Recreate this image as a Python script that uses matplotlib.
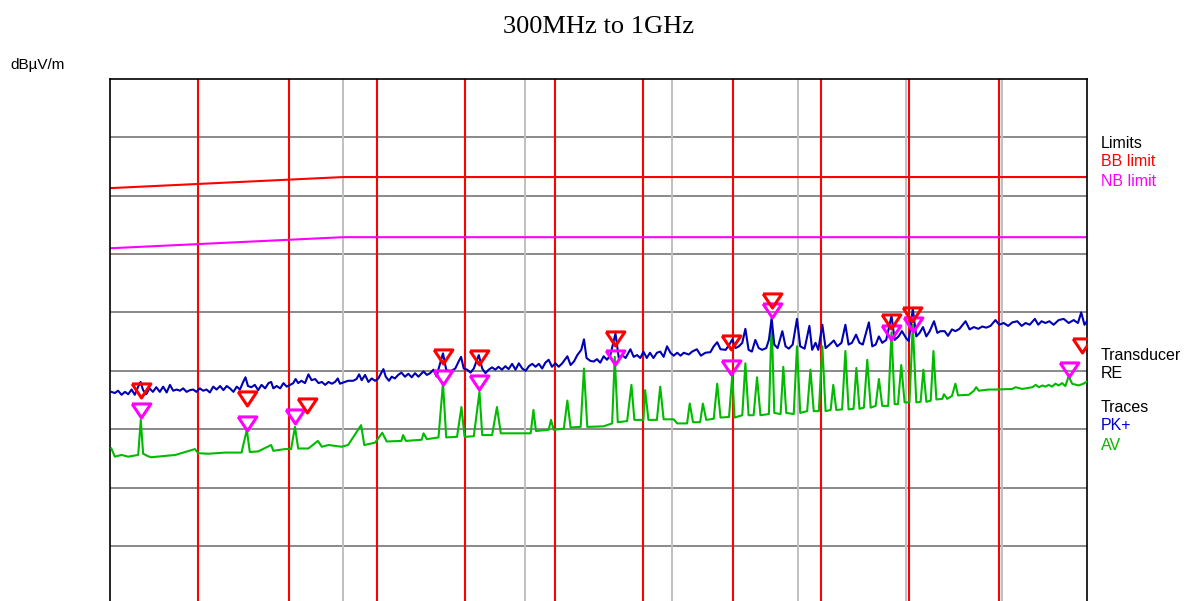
import matplotlib
matplotlib.use("Agg")
import matplotlib.pyplot as plt

# ---------------- data ----------------
title = "300MHz to 1GHz"
y_unit = "dBµV/m"

pk_freq = [300.5, 301.8, 303.0, 304.3, 305.6, 306.8, 308.1, 309.3, 310.6, 311.5, 312.5, 313.7, 315.0, 316.3, 317.6,
           319.0, 320.3, 321.7, 323.0, 324.3, 325.7, 327.0, 328.3, 329.7, 331.1, 332.4, 333.7, 335.1, 336.5, 337.9,
           339.3, 340.7, 342.1, 343.6, 345.0, 346.4, 347.8, 349.3, 350.7, 352.1, 353.5, 354.5, 355.6, 357.1, 358.6,
           360.1, 361.6, 363.2, 364.7, 365.9, 366.9, 368.4, 370.0, 371.5, 373.0, 374.6, 376.0, 377.1, 378.3, 379.8,
           381.5, 383.1, 384.6, 386.3, 387.9, 389.5, 391.1, 392.7, 394.3, 395.9, 397.2, 398.3, 400.7, 402.3, 404.8,
           406.5, 407.8, 409.1, 410.8, 412.5, 414.2, 415.9, 417.6, 419.0, 420.2, 421.4, 423.1, 424.5, 426.2, 427.9,
           429.6, 431.5, 433.3, 435.1, 436.9, 438.7, 441.5, 443.3, 445.1, 446.9, 448.7,
           449.8, 452.2, 454.0, 456.2, 459.1, 461.0, 462.4, 463.9, 465.9, 467.8, 469.7, 472.6, 474.6, 476.5, 478.4,
           480.4, 482.3, 484.2, 486.3, 488.3, 490.3, 492.4, 494.5, 496.5, 498.6, 500.7, 502.7, 504.8, 506.8, 508.9,
           511.0, 513.0, 515.1, 517.2, 519.4, 521.5, 523.8, 527.1, 529.2, 531.4, 533.6, 536.2, 538.0, 539.7, 542.3,
           544.5, 546.7, 548.9, 551.2, 553.5, 555.8, 559.3, 561.6, 563.9, 566.3, 569.7, 572.0, 574.4, 576.7, 578.9,
           581.3, 583.6, 586.1, 588.6, 591.0, 593.5, 596.0, 598.5, 600.9, 603.5, 606.0, 608.4, 612.2, 614.7, 618.3,
           621.4, 624.8, 628.7, 631.3, 634.0, 636.6, 640.6, 643.3, 645.9, 648.5, 651.2, 653.9, 656.4, 659.0, 661.7,
           664.5, 667.3,
           670.1, 673.5, 675.7, 678.0, 680.2, 683.0, 687.0, 689.7, 692.5, 695.8, 699.5, 702.3, 706.1, 710.3, 712.7,
           715.7, 718.1, 721.7, 724.6, 728.2, 732.0, 735.1, 738.9, 742.5, 745.4, 748.5, 752.3, 755.5, 758.6, 764.3,
           767.5, 770.7, 773.8, 777.0, 780.8, 785.9, 789.0, 792.8, 796.1, 800.2, 802.8, 806.8, 810.3, 813.6, 817.0,
           820.4, 823.8, 828.2, 831.6, 834.8, 839.1, 842.6, 846.7, 850.3, 854.6, 861.0, 865.3, 869.9, 874.6, 878.9,
           883.2, 887.9, 893.3, 897.5, 902.4, 907.4, 912.0, 917.7, 922.6, 927.2, 931.8, 937.8, 941.7, 945.5, 950.1,
           954.7, 959.7, 965.7, 971.7, 977.7, 983.7, 988.9, 992.9, 996.9, 1000.0]
pk_level = [36.4, 36.2, 36.6, 35.9, 36.4, 36.0, 36.8, 35.9, 37.3, 38.1, 36.7, 36.0, 37.0, 36.4, 37.2,
            36.4, 37.3, 36.3, 37.6, 36.6, 36.8, 36.6, 37.0, 36.4, 36.7, 36.8, 36.4, 37.0, 36.6, 36.8,
            36.3, 37.3, 36.8, 37.4, 36.7, 37.4, 37.0, 36.4, 37.3, 36.8, 38.1, 38.9, 37.4, 37.2, 37.6,
            36.7, 37.6, 37.0, 37.9, 38.1, 37.0, 37.4, 37.0, 37.9, 37.3, 37.6, 37.9, 38.6, 37.9, 38.3,
            37.9, 39.4, 38.4, 38.6, 37.9, 38.1, 37.6, 38.1, 37.8, 38.1, 38.7, 37.8, 38.1, 38.3, 38.3,
            38.6, 39.4, 38.4, 39.3, 38.1, 38.7, 38.3, 38.7, 39.6, 40.3, 39.0, 38.3, 39.0, 38.7, 39.3,
            39.7, 39.0, 39.5, 38.9, 39.6, 39.0, 39.9, 39.3, 39.6, 40.2, 39.0,
            40.4, 43.0, 40.2, 39.9, 40.4, 41.6, 42.4, 40.4, 40.2, 39.7, 40.4, 42.7, 40.4, 39.6, 40.2,
            40.6, 40.2, 40.7, 40.2, 40.8, 40.3, 41.2, 40.2, 41.3, 40.4, 40.0, 40.8, 41.2, 40.7, 41.2,
            40.4, 41.4, 41.9, 40.7, 41.3, 40.7, 41.3, 42.5, 41.0, 41.6, 42.7, 43.6, 45.4, 42.2, 41.7,
            41.6, 42.0, 41.4, 42.5, 41.9, 42.7, 46.4, 42.2, 42.7, 42.2, 43.7, 42.4, 42.7, 42.2, 43.3,
            42.2, 43.1, 42.2, 43.1, 43.3, 42.4, 44.2, 43.1, 42.6, 43.1, 42.6, 43.1, 42.8, 43.3, 43.7,
            42.6, 43.1, 43.2, 44.2, 44.9, 43.7, 43.6, 44.4, 45.4, 43.9, 44.2, 44.8, 47.2, 43.6, 43.3,
            45.3, 43.9,
            43.6, 43.9, 45.3, 49.0, 44.5, 43.9, 46.8, 44.2, 43.8, 44.5, 48.9, 44.2, 43.8, 47.7, 43.6,
            44.8, 43.6, 47.9, 43.9, 44.5, 45.2, 44.2, 44.8, 47.9, 44.5, 44.8, 46.2, 44.8, 44.5, 48.3,
            44.2, 44.5, 45.9, 44.8, 45.3, 49.4, 45.3, 45.9, 46.8, 45.6, 45.1, 50.6, 45.9, 46.5, 47.5,
            45.9, 46.8, 48.5, 46.5, 46.8, 46.8, 46.0, 47.1, 46.8, 47.2, 48.5, 47.1, 47.5, 47.2, 47.6,
            47.4, 47.7, 48.7, 47.9, 48.2, 47.7, 48.3, 48.5, 47.7, 48.2, 47.9, 48.9, 47.9, 48.5, 48.2,
            48.5, 47.9, 48.7, 48.9, 48.2, 48.7, 48.2, 50.0, 47.9, 48.5]

av_freq = [300.5, 301.8, 304.3, 306.8, 310.6, 311.6, 312.5, 314.3, 315.6, 325.2, 333.1, 334.4, 338.6, 345.7, 352.8,
           355.1, 356.4, 360.1, 365.9, 366.9, 372.2, 375.0, 376.8, 378.3, 383.1, 387.6, 389.5, 392.7, 399.1, 402.3,
           408.8, 410.4, 415.9, 419.6, 421.9, 429.6, 430.5, 432.0, 440.5, 441.5, 443.3, 449.7,
           452.2, 454.0, 460.1, 462.6, 464.4, 469.7, 473.0, 474.6, 480.4, 483.3, 485.6, 493.4, 503.8, 505.5, 507.1,
           515.1, 516.6, 518.3, 524.8, 527.1, 529.2, 535.8, 538.0, 540.2, 551.2, 557.0, 558.8, 560.9, 567.4, 570.4,
           572.5, 578.9, 580.1, 582.5, 588.6, 591.0, 593.5, 600.9, 603.5, 610.9, 612.9, 615.4, 620.8, 622.9, 625.5,
           631.3, 634.0, 636.6, 643.3, 645.9, 647.7, 653.9, 656.4, 659.0, 663.1, 665.9, 668.7,
           675.7, 678.0, 680.2, 685.5, 687.8, 690.3, 696.7, 699.5, 702.3, 708.3, 711.2, 714.1, 718.6, 721.7, 724.6,
           729.1, 731.5, 734.2, 739.5, 742.5, 745.4, 750.0, 752.6, 755.5, 759.6, 762.8, 766.0, 770.7, 773.8, 777.0,
           782.7, 785.9, 789.0, 792.2, 795.4, 798.7, 803.5, 806.8, 810.3, 814.6, 817.4, 820.4, 824.8, 827.6, 830.6,
           836.7, 838.4, 841.8, 846.7, 850.3, 853.1, 864.5, 869.9, 872.4, 875.2, 886.0, 893.3, 912.0, 915.8, 923.4,
           934.9, 938.7, 942.5, 946.4, 950.1, 953.9, 957.8, 961.8, 965.7, 969.8, 973.7, 977.7, 981.8, 989.7, 995.7,
           1000.0]
av_level = [26.7, 25.3, 25.6, 25.3, 25.6, 31.6, 25.8, 25.4, 25.2, 25.6, 26.6, 25.9, 25.8, 26.0, 26.0,
            29.9, 26.1, 26.2, 27.3, 26.3, 26.6, 26.6, 30.4, 26.7, 26.7, 28.0, 27.0, 27.3, 27.0, 27.3,
            30.7, 27.3, 27.7, 29.4, 27.9, 28.0, 29.0, 28.0, 28.2, 29.3, 28.3, 28.6,
            37.9, 28.6, 28.7, 33.8, 28.7, 28.8, 36.4, 29.0, 29.0, 33.8, 29.3, 29.3, 29.3, 33.3, 29.7,
            29.9, 31.6, 29.9, 30.1, 34.9, 30.3, 30.4, 40.4, 30.4, 30.5, 31.0, 42.4, 31.2, 31.4, 37.6,
            31.6, 31.6, 36.7, 31.6, 31.6, 37.3, 31.7, 31.7, 31.0, 31.0, 34.4, 31.2, 31.2, 34.4, 31.6,
            31.8, 37.8, 32.0, 32.1, 39.3, 32.0, 32.4, 41.3, 32.4, 32.4, 38.9, 32.4,
            32.6, 48.6, 32.8, 32.6, 40.7, 32.8, 32.6, 44.2, 32.8, 33.1, 40.2, 33.1, 33.1, 44.2, 33.1,
            33.3, 37.6, 33.3, 33.4, 43.4, 33.4, 33.5, 40.5, 33.5, 33.7, 41.9, 33.7, 34.0, 38.6, 34.0,
            34.0, 46.6, 34.3, 34.3, 41.0, 34.6, 34.6, 47.9, 34.6, 34.7, 40.2, 34.7, 34.9, 43.4, 35.1,
            35.2, 36.0, 35.2, 35.7, 37.8, 35.8, 35.9, 36.6, 37.2, 36.6, 36.8, 36.8, 36.9, 37.2, 36.9,
            37.2, 37.6, 37.2, 37.5, 37.3, 37.6, 37.3, 37.8, 37.5, 37.9, 37.4, 39.1, 37.8, 37.5, 37.8,
            38.2]

pk_marker_freq = [311.5, 355.2, 382.6, 452.2, 473.0, 559.3, 645.2, 678.0, 785.9, 806.5, 993.7]
pk_marker_level = [36.8, 35.3, 34.1, 42.5, 42.3, 45.7, 44.9, 52.1, 48.5, 49.8, 44.4]
av_marker_freq = [311.5, 355.2, 376.8, 452.2, 473.0, 559.3, 645.2, 678.0, 785.9, 806.8, 977.7]
av_marker_level = [33.3, 31.1, 32.3, 38.9, 38.1, 42.4, 40.7, 50.4, 46.6, 48.0, 40.4]

bb_freq = [300, 400, 1000]
bb_level = [71.3, 73.2, 73.2]
nb_freq = [300, 400, 1000]
nb_level = [61.0, 62.9, 62.9]

red_lines = [334.5, 374.0, 416.7, 464.7, 519.3, 578.4, 646.3, 720.7, 803.0, 897.5]
gray_lines = [400, 500, 600, 700, 800, 900]
h_grid = [10, 20, 30, 40, 50, 60, 70, 80]

legend_limits = ["Limits", "BB limit", "NB limit"]
legend_trans = ["Transducer", "RE"]
legend_traces = ["Traces", "PK+", "AV"]

# ---------------- style ----------------
W, H = 1188, 601
fig = plt.figure(figsize=(W / 100, H / 100), dpi=100)
ax = fig.add_axes([110 / W, -0.0056, (1087 - 110) / W, 0.8742])
ax.set_xscale("log")
ax.set_xlim(300, 1000)
ax.set_ylim(0, 90)
ax.xaxis.set_minor_locator(matplotlib.ticker.NullLocator())
ax.set_xticks([])
ax.set_yticks([])
for s in ax.spines.values():
    s.set_color("black")
    s.set_linewidth(1.2)

for yv in h_grid:
    ax.axhline(yv, color="#808080", lw=1.3, zorder=1)
for fv in gray_lines:
    ax.axvline(fv, color="#c0c0c0", lw=1.4, zorder=1)
for fv in red_lines:
    ax.axvline(fv, color="#ff0000", lw=1.5, zorder=1.5)

ax.plot(bb_freq, bb_level, color="#ff0000", lw=1.5, zorder=2)
ax.plot(nb_freq, nb_level, color="#ff00ff", lw=1.5, zorder=2)
ax.plot(av_freq, av_level, color="#00bb00", lw=1.5, zorder=3)
ax.plot(pk_freq, pk_level, color="#0000b4", lw=1.5, zorder=4)

tri = [(-1, 0.7), (1, 0.7), (0, -0.8), (-1, 0.7)]
ax.plot(av_marker_freq, av_marker_level, linestyle="none", marker=tri, ms=13.5,
        mfc="none", mec="#ff00ff", mew=2.2, zorder=5)
ax.plot(pk_marker_freq, pk_marker_level, linestyle="none", marker=tri, ms=13.5,
        mfc="none", mec="#ff0000", mew=2.2, zorder=6)

fam = ["Liberation Sans Narrow", "Liberation Sans", "DejaVu Sans"]
fig.text(598.5 / W, 1 - 27 / H, title, ha="center", va="center", fontsize=19,
         family=["Liberation Serif", "DejaVu Serif"])
fig.text(10 / W, 1 - 65 / H, y_unit, ha="left", va="center", fontsize=11, family=fam)

def rtext(y, s, c):
    fig.text(1101 / W, 1 - y / H, s, ha="left", va="center", fontsize=11.5, color=c, family=fam)

rtext(143, legend_limits[0], "black")
rtext(162, legend_limits[1], "#ff0000")
rtext(181, legend_limits[2], "#ff00ff")
rtext(355, legend_trans[0], "black")
rtext(374, legend_trans[1], "black")
rtext(407, legend_traces[0], "black")
rtext(426, legend_traces[1], "#0000cc")
rtext(446, legend_traces[2], "#00bb00")

fig.savefig("out.png", dpi=100)
